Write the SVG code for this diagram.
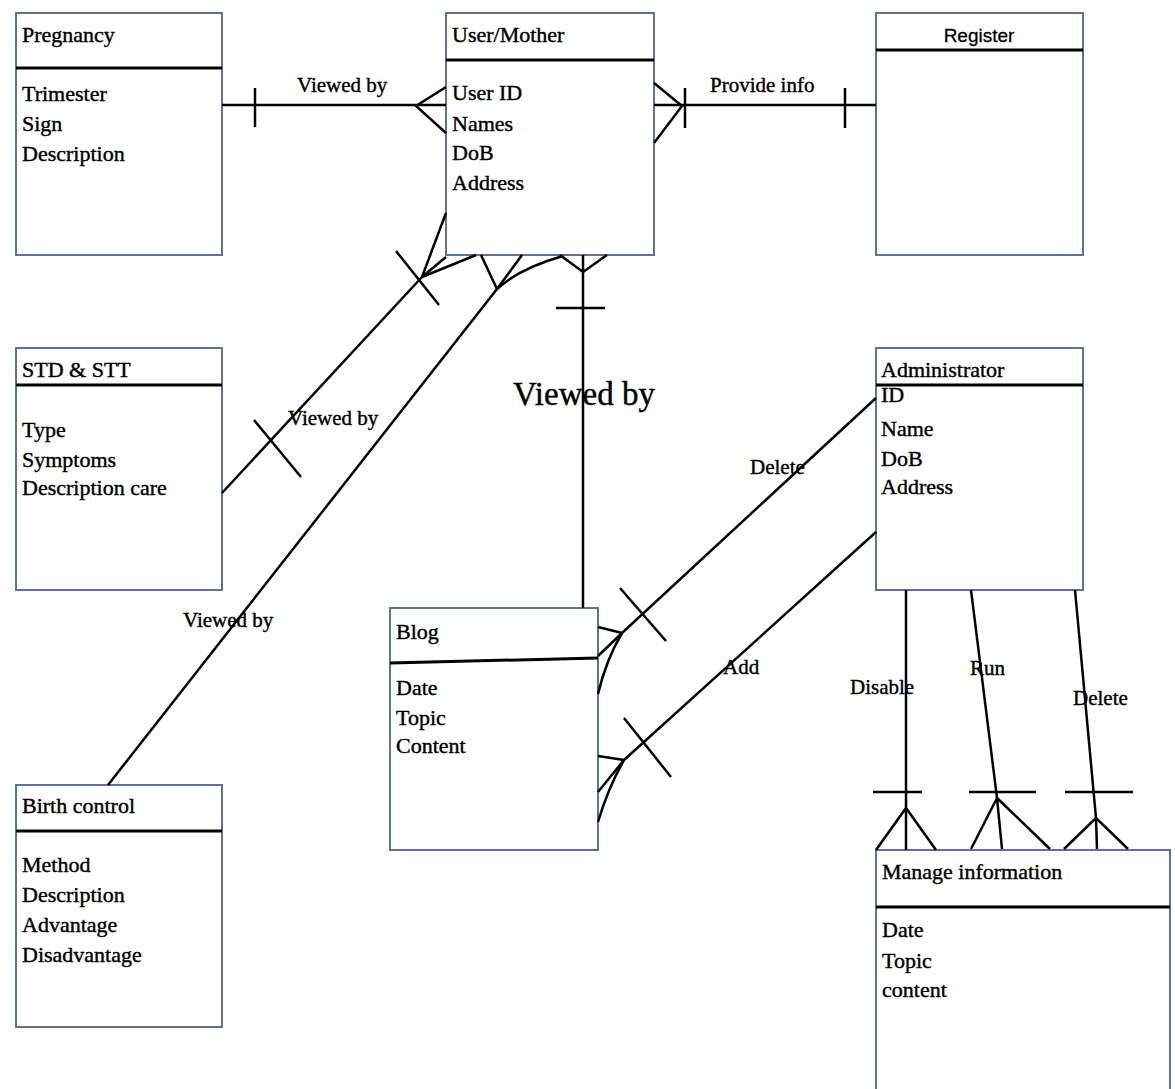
<svg xmlns="http://www.w3.org/2000/svg" width="1175" height="1089" viewBox="0 0 1175 1089">
<style>
.box{fill:#fff;stroke:#5b7396;stroke-width:2}
.sep{stroke:#000;stroke-width:3}
.t{font-family:"Liberation Serif","Times New Roman",serif;font-size:22px;fill:#000;stroke:#000;stroke-width:0.4}
.lbl{font-family:"Liberation Serif","Times New Roman",serif;font-size:21px;fill:#000;stroke:#000;stroke-width:0.4}
.big{font-family:"Liberation Serif","Times New Roman",serif;font-size:33px;fill:#000;stroke:#000;stroke-width:0.4}
.sans{font-family:"Liberation Sans",Arial,sans-serif;font-size:19px;fill:#000;stroke:#000;stroke-width:0.3}
.c line,.c path,.c polyline{stroke:#000;stroke-width:2.5;fill:none}
</style>
<rect width="1175" height="1089" fill="#fff"/>

<g id="pregnancy">
<rect class="box" x="16" y="13" width="206" height="242"/>
<line class="sep" x1="16" y1="68" x2="222" y2="68"/>
<text class="t" x="22" y="42">Pregnancy</text>
<text class="t" x="22" y="101">Trimester</text>
<text class="t" x="22" y="131">Sign</text>
<text class="t" x="22" y="161">Description</text>
</g>

<g id="user-mother">
<rect class="box" x="446" y="13" width="208" height="242"/>
<line class="sep" x1="446" y1="60" x2="654" y2="60"/>
<text class="t" x="452" y="42">User/Mother</text>
<text class="t" x="452" y="100">User ID</text>
<text class="t" x="452" y="131">Names</text>
<text class="t" x="452" y="160">DoB</text>
<text class="t" x="452" y="190">Address</text>
</g>

<g id="register">
<rect class="box" x="876" y="13" width="207" height="242"/>
<line class="sep" x1="876" y1="50" x2="1083" y2="50"/>
<text class="sans" x="979" y="42" text-anchor="middle">Register</text>
</g>

<g id="std-stt">
<rect class="box" x="16" y="348" width="206" height="242"/>
<line class="sep" x1="16" y1="385" x2="222" y2="385"/>
<text class="t" x="22" y="377">STD &amp; STT</text>
<text class="t" x="22" y="437">Type</text>
<text class="t" x="22" y="467">Symptoms</text>
<text class="t" x="22" y="495">Description care</text>
</g>

<g id="administrator">
<rect class="box" x="876" y="348" width="207" height="242"/>
<line class="sep" x1="876" y1="385" x2="1083" y2="385"/>
<text class="t" x="881" y="377">Administrator</text>
<text class="t" x="881" y="402">ID</text>
<text class="t" x="881" y="436">Name</text>
<text class="t" x="881" y="466">DoB</text>
<text class="t" x="881" y="494">Address</text>
</g>

<g id="blog">
<rect class="box" x="390" y="608" width="208" height="242"/>
<line class="sep" x1="390" y1="663" x2="598" y2="658"/>
<text class="t" x="396" y="639">Blog</text>
<text class="t" x="396" y="695">Date</text>
<text class="t" x="396" y="725">Topic</text>
<text class="t" x="396" y="753">Content</text>
</g>

<g id="birth-control">
<rect class="box" x="16" y="785" width="206" height="242"/>
<line class="sep" x1="16" y1="831" x2="222" y2="831"/>
<text class="t" x="22" y="813">Birth control</text>
<text class="t" x="22" y="872">Method</text>
<text class="t" x="22" y="902">Description</text>
<text class="t" x="22" y="932">Advantage</text>
<text class="t" x="22" y="962">Disadvantage</text>
</g>

<g id="manage-information">
<rect class="box" x="876" y="850" width="294" height="245"/>
<line class="sep" x1="876" y1="907" x2="1170" y2="907"/>
<text class="t" x="882" y="879">Manage information</text>
<text class="t" x="882" y="937">Date</text>
<text class="t" x="882" y="968">Topic</text>
<text class="t" x="882" y="997">content</text>
</g>

<g id="connectors" class="c">
<!-- Pregnancy - User -->
<line x1="222" y1="105" x2="446" y2="105"/>
<line x1="255" y1="88" x2="255" y2="127"/>
<polyline points="446,87 416,106 446,133"/>
<!-- User - Register -->
<line x1="654" y1="105" x2="876" y2="105"/>
<polyline points="654,83 682,106 654,143"/>
<line x1="685" y1="88" x2="685" y2="128"/>
<line x1="845" y1="88" x2="845" y2="128"/>
<!-- User - STD -->
<line x1="222" y1="493" x2="422" y2="277"/>
<line x1="396" y1="251" x2="439" y2="305"/>
<line x1="254" y1="420" x2="301" y2="477"/>
<line x1="422" y1="277" x2="446" y2="213"/>
<line x1="422" y1="277" x2="446" y2="257"/>
<line x1="422" y1="277" x2="476" y2="255"/>
<!-- User - Birth control -->
<line x1="108" y1="785" x2="497" y2="289"/>
<line x1="497" y1="289" x2="481" y2="255"/>
<line x1="497" y1="289" x2="522" y2="255"/>
<path d="M497,289 Q520,268 563,256"/>
<!-- User - Blog -->
<line x1="583" y1="255" x2="583" y2="608"/>
<polyline points="560,255 583,272 607,255"/>
<line x1="556" y1="308" x2="605" y2="308"/>
<!-- Admin - Blog Delete -->
<line x1="876" y1="398" x2="622" y2="633"/>
<line x1="620" y1="588" x2="666" y2="641"/>
<line x1="622" y1="633" x2="598" y2="627"/>
<line x1="622" y1="633" x2="598" y2="656"/>
<path d="M622,633 Q606,660 598,694"/>
<!-- Admin - Blog Add -->
<line x1="876" y1="532" x2="624" y2="760"/>
<line x1="624" y1="718" x2="671" y2="777"/>
<line x1="624" y1="760" x2="598" y2="756"/>
<line x1="624" y1="760" x2="598" y2="792"/>
<path d="M624,760 Q608,788 598,822"/>
<!-- Admin - Manage Disable -->
<line x1="906" y1="590" x2="906" y2="850"/>
<line x1="873" y1="792" x2="922" y2="792"/>
<polyline points="876,850 906,808 936,850"/>
<!-- Admin - Manage Run -->
<line x1="971" y1="590" x2="997" y2="798"/>
<line x1="969" y1="792" x2="1036" y2="792"/>
<line x1="997" y1="798" x2="971" y2="849"/>
<line x1="997" y1="798" x2="1002" y2="849"/>
<line x1="997" y1="798" x2="1050" y2="849"/>
<!-- Admin - Manage Delete -->
<line x1="1075" y1="590" x2="1096" y2="818"/>
<line x1="1065" y1="792" x2="1133" y2="792"/>
<line x1="1096" y1="818" x2="1064" y2="849"/>
<line x1="1096" y1="818" x2="1097" y2="849"/>
<line x1="1096" y1="818" x2="1128" y2="849"/>
</g>

<g id="labels">
<text class="lbl" x="297" y="92">Viewed by</text>
<text class="lbl" x="710" y="92">Provide info</text>
<text class="lbl" x="288" y="425">Viewed by</text>
<text class="lbl" x="183" y="627">Viewed by</text>
<text class="big" x="513" y="405">Viewed by</text>
<text class="lbl" x="750" y="474">Delete</text>
<text class="lbl" x="723" y="674">Add</text>
<text class="lbl" x="850" y="694">Disable</text>
<text class="lbl" x="970" y="675">Run</text>
<text class="lbl" x="1073" y="705">Delete</text>
</g>
</svg>
